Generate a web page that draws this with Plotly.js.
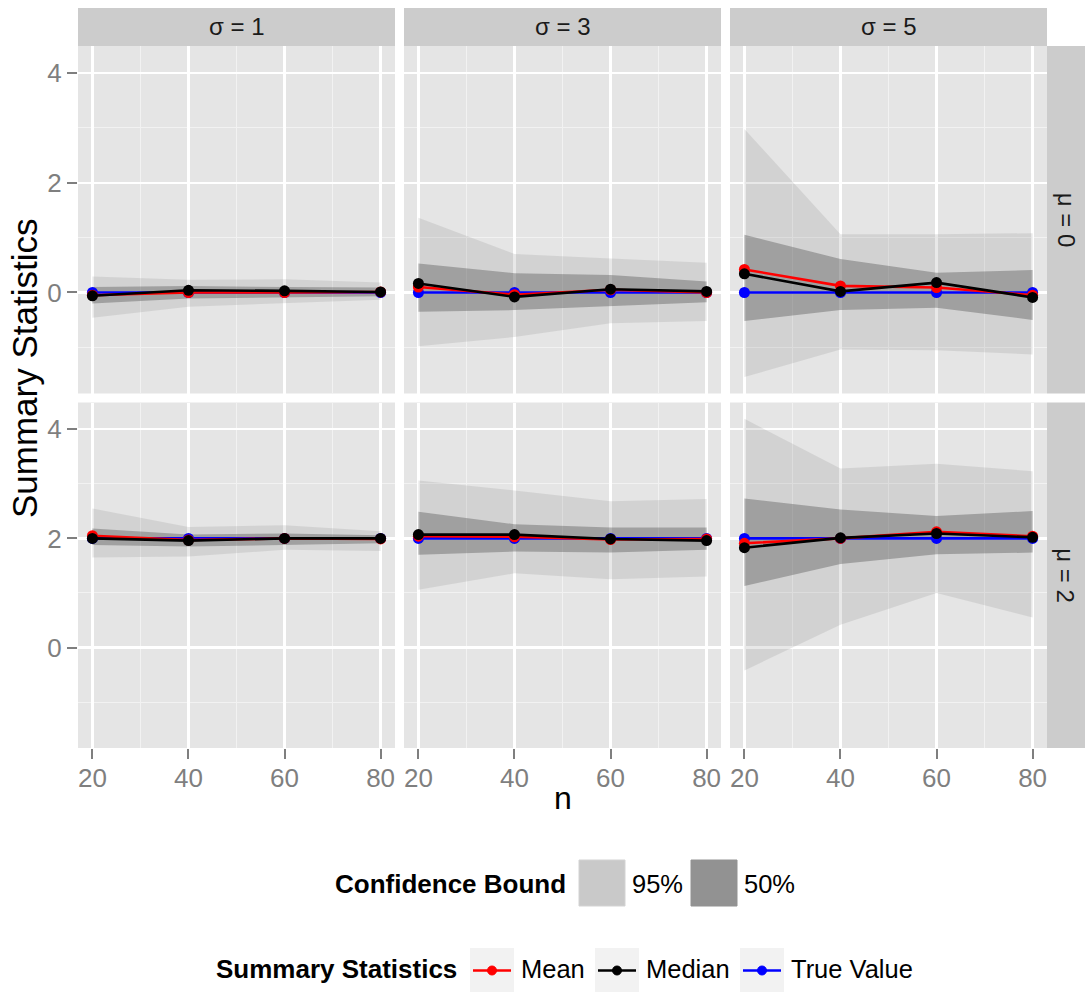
<!DOCTYPE html>
<html>
<head>
<meta charset="utf-8">
<script src="https://cdn.plot.ly/plotly-3.0.1.min.js"></script>
<style>html,body{margin:0;padding:0;background:#fff;}</style>
</head>
<body>
<div id="chart" style="width:1085px;height:992px;"></div>
<script>
// ---------------- data ----------------
const nValues = [20, 40, 60, 80];
const sigmaLabels = ["σ = 1", "σ = 3", "σ = 5"];
const muLabels = ["μ = 0", "μ = 2"];
const trueValues = [0, 2]; // per mu row

// panel order: (mu=0,s=1),(mu=0,s=3),(mu=0,s=5),(mu=2,s=1),(mu=2,s=3),(mu=2,s=5)
const upper95 = [
  [0.29, 0.23, 0.24, 0.18],
  [1.36, 0.70, 0.62, 0.54],
  [2.98, 1.06, 1.06, 1.08],
  [2.55, 2.21, 2.24, 2.13],
  [3.06, 2.88, 2.68, 2.72],
  [4.19, 3.28, 3.37, 3.23]
];
const lower95 = [
  [-0.46, -0.26, -0.20, -0.13],
  [-0.98, -0.81, -0.56, -0.52],
  [-1.54, -1.04, -1.05, -1.13],
  [1.65, 1.67, 1.79, 1.77],
  [1.06, 1.36, 1.25, 1.30],
  [-0.42, 0.42, 1.00, 0.55]
];
const upper50 = [
  [0.10, 0.12, 0.10, 0.09],
  [0.53, 0.35, 0.32, 0.20],
  [1.05, 0.61, 0.36, 0.41],
  [2.18, 2.07, 2.09, 2.06],
  [2.49, 2.26, 2.20, 2.20],
  [2.73, 2.53, 2.41, 2.50]
];
const lower50 = [
  [-0.20, -0.11, -0.09, -0.07],
  [-0.35, -0.32, -0.25, -0.18],
  [-0.52, -0.32, -0.28, -0.50],
  [1.88, 1.85, 1.88, 1.91],
  [1.70, 1.76, 1.74, 1.79],
  [1.13, 1.53, 1.71, 1.74]
];
const meanValues = [
  [-0.05, 0.00, 0.00, 0.01],
  [0.10, -0.04, 0.05, 0.00],
  [0.42, 0.12, 0.09, -0.05],
  [2.05, 1.97, 2.00, 1.99],
  [2.04, 2.03, 1.98, 1.99],
  [1.91, 2.00, 2.12, 2.04]
];
const medianValues = [
  [-0.06, 0.04, 0.03, 0.01],
  [0.165, -0.08, 0.06, 0.02],
  [0.34, 0.02, 0.18, -0.09],
  [2.00, 1.96, 2.00, 2.00],
  [2.07, 2.07, 1.99, 1.96],
  [1.83, 2.01, 2.09, 2.02]
];

// ---------------- geometry helpers ----------------
const W = 1085, H = 992;
const ML = 78, MR = 38, MT = 8, MB = 244;
const PW = W - ML - MR, PH = H - MT - MB;
const px = v => (v - ML) / PW;
const py = v => (H - MB - v) / PH;

const colPix = [[78, 395], [404, 721], [730, 1047]];
const rowPix = [[46, 393.5], [402.5, 748]];
const FONT = "Liberation Sans, Arial, sans-serif";

const col95 = "rgba(127,127,127,0.18)";
const col50 = "rgba(80,80,80,0.38)";

const traces = [];
const layout = {
  width: W, height: H,
  margin: {l: ML, r: MR, t: MT, b: MB, pad: 0},
  paper_bgcolor: "#ffffff",
  plot_bgcolor: "#e5e5e5",
  showlegend: false,
  font: {family: FONT},
  shapes: [],
  annotations: []
};

for (let r = 0; r < 2; r++) {
  for (let c = 0; c < 3; c++) {
    const p = r * 3 + c;
    const k = p + 1;
    const xa = "x" + (k === 1 ? "" : k), ya = "y" + (k === 1 ? "" : k);
    const xk = "xaxis" + (k === 1 ? "" : k), yk = "yaxis" + (k === 1 ? "" : k);
    const bottom = r === 1, left = c === 0;
    layout[xk] = {
      domain: [px(colPix[c][0]), px(colPix[c][1])],
      anchor: ya, range: [17, 83], tickmode: "linear", tick0: 20, dtick: 20,
      showgrid: true, gridcolor: "#ffffff", gridwidth: 2.2,
      minor: {tickmode: "linear", tick0: 0, dtick: 10, showgrid: true, gridcolor: "#f2f2f2", gridwidth: 1},
      zeroline: false, showline: false,
      ticks: bottom ? "outside" : "", ticklen: 10, tickwidth: 2, tickcolor: "#7f7f7f",
      showticklabels: bottom, ticklabelstandoff: -3,
      tickfont: {family: FONT, size: 26, color: "#7f7f7f"},
      fixedrange: true
    };
    layout[yk] = {
      domain: [py(rowPix[r][1]), py(rowPix[r][0])],
      anchor: xa, range: [-1.84, 4.49], tickmode: "linear", tick0: 0, dtick: 2,
      showgrid: true, gridcolor: "#ffffff", gridwidth: 2.2,
      minor: {tickmode: "linear", tick0: 1, dtick: 2, showgrid: true, gridcolor: "#f2f2f2", gridwidth: 1},
      zeroline: false, showline: false,
      ticks: left ? "outside" : "", ticklen: 10, tickwidth: 2, tickcolor: "#7f7f7f",
      showticklabels: left,
      tickfont: {family: FONT, size: 26, color: "#7f7f7f"},
      fixedrange: true
    };

    const polyX = nValues.concat(nValues.slice().reverse());
    traces.push({
      type: "scatter", mode: "lines", xaxis: xa, yaxis: ya,
      x: polyX, y: upper95[p].concat(lower95[p].slice().reverse()),
      fill: "toself", fillcolor: col95, line: {width: 0, color: "rgba(0,0,0,0)"},
      hoverinfo: "skip"
    });
    traces.push({
      type: "scatter", mode: "lines", xaxis: xa, yaxis: ya,
      x: polyX, y: upper50[p].concat(lower50[p].slice().reverse()),
      fill: "toself", fillcolor: col50, line: {width: 0, color: "rgba(0,0,0,0)"},
      hoverinfo: "skip"
    });
    const series = [
      {y: nValues.map(() => trueValues[r]), color: "#0000ff"},
      {y: meanValues[p], color: "#ff0000"},
      {y: medianValues[p], color: "#000000"}
    ];
    series.forEach(s => traces.push({
      type: "scatter", mode: "lines+markers", xaxis: xa, yaxis: ya,
      x: nValues, y: s.y,
      line: {color: s.color, width: 2.6},
      marker: {color: s.color, size: 11}
    }));
  }
}

// strips (top)
for (let c = 0; c < 3; c++) {
  layout.shapes.push({type: "rect", xref: "paper", yref: "paper", layer: "below",
    x0: px(colPix[c][0]), x1: px(colPix[c][1]), y0: py(46), y1: py(8),
    fillcolor: "#cccccc", line: {width: 0}});
  layout.annotations.push({xref: "paper", yref: "paper", showarrow: false,
    x: px((colPix[c][0] + colPix[c][1]) / 2), y: py(27), xanchor: "center", yanchor: "middle",
    text: sigmaLabels[c], font: {family: FONT, size: 24, color: "#1a1a1a"}});
}
// strips (right)
for (let r = 0; r < 2; r++) {
  layout.shapes.push({type: "rect", xref: "paper", yref: "paper", layer: "below",
    x0: px(1047), x1: px(1085), y0: py(rowPix[r][1]), y1: py(rowPix[r][0]),
    fillcolor: "#cccccc", line: {width: 0}});
  layout.annotations.push({xref: "paper", yref: "paper", showarrow: false,
    x: px(1066), y: py((rowPix[r][0] + rowPix[r][1]) / 2), xanchor: "center", yanchor: "middle",
    textangle: 90, text: muLabels[r], font: {family: FONT, size: 24, color: "#1a1a1a"}});
}

// axis titles
layout.annotations.push({xref: "paper", yref: "paper", showarrow: false,
  x: px(562.5), y: py(798), xanchor: "center", yanchor: "middle",
  text: "n", font: {family: FONT, size: 32, color: "#000000"}});
layout.annotations.push({xref: "paper", yref: "paper", showarrow: false,
  x: px(24), y: py(368), xanchor: "center", yanchor: "middle", textangle: -90,
  text: "Summary Statistics", font: {family: FONT, size: 35, color: "#000000"}});

// legend 1: Confidence Bound
layout.annotations.push({xref: "paper", yref: "paper", showarrow: false,
  x: px(568), y: py(884), xanchor: "right", yanchor: "middle",
  text: "<b>Confidence Bound</b>", font: {family: FONT, size: 26, color: "#000000"}});
const ciKeys = [{x0: 579, label: "95%", fill: "#c9c9c9", line: "#d3d3d3"},
                {x0: 691, label: "50%", fill: "#929292", line: "#929292"}];
ciKeys.forEach(k => {
  layout.shapes.push({type: "rect", xref: "paper", yref: "paper",
    x0: px(k.x0), x1: px(k.x0 + 46), y0: py(906), y1: py(860),
    fillcolor: k.fill, line: {width: 1, color: k.line}});
  layout.annotations.push({xref: "paper", yref: "paper", showarrow: false,
    x: px(k.x0 + 51), y: py(884), xanchor: "left", yanchor: "middle",
    text: k.label, font: {family: FONT, size: 25.5, color: "#000000"}});
});

// legend 2: Summary Statistics
layout.annotations.push({xref: "paper", yref: "paper", showarrow: false,
  x: px(459), y: py(969), xanchor: "right", yanchor: "middle",
  text: "<b>Summary Statistics</b>", font: {family: FONT, size: 26, color: "#000000"}});
const statKeys = [{x0: 470, label: "Mean", color: "#ff0000"},
                  {x0: 595, label: "Median", color: "#000000"},
                  {x0: 740, label: "True Value", color: "#0000ff"}];
statKeys.forEach(k => {
  const x1 = k.x0 + 44, cx = k.x0 + 22, cy = 970.5;
  layout.shapes.push({type: "rect", xref: "paper", yref: "paper",
    x0: px(k.x0), x1: px(x1), y0: py(994), y1: py(948),
    fillcolor: "#f2f2f2", line: {width: 0}});
  layout.shapes.push({type: "line", xref: "paper", yref: "paper",
    x0: px(k.x0 + 3), x1: px(x1 - 3), y0: py(cy), y1: py(cy),
    line: {color: k.color, width: 2.6}});
  layout.shapes.push({type: "circle", xref: "paper", yref: "paper",
    x0: px(cx - 4.5), x1: px(cx + 4.5), y0: py(cy + 4.5), y1: py(cy - 4.5),
    fillcolor: k.color, line: {color: k.color, width: 1}});
  layout.annotations.push({xref: "paper", yref: "paper", showarrow: false,
    x: px(x1 + 5), y: py(969), xanchor: "left", yanchor: "middle",
    text: k.label, font: {family: FONT, size: 25.5, color: "#000000"}});
});

Plotly.newPlot("chart", traces, layout, {displayModeBar: false, staticPlot: true});
</script>
</body>
</html>
